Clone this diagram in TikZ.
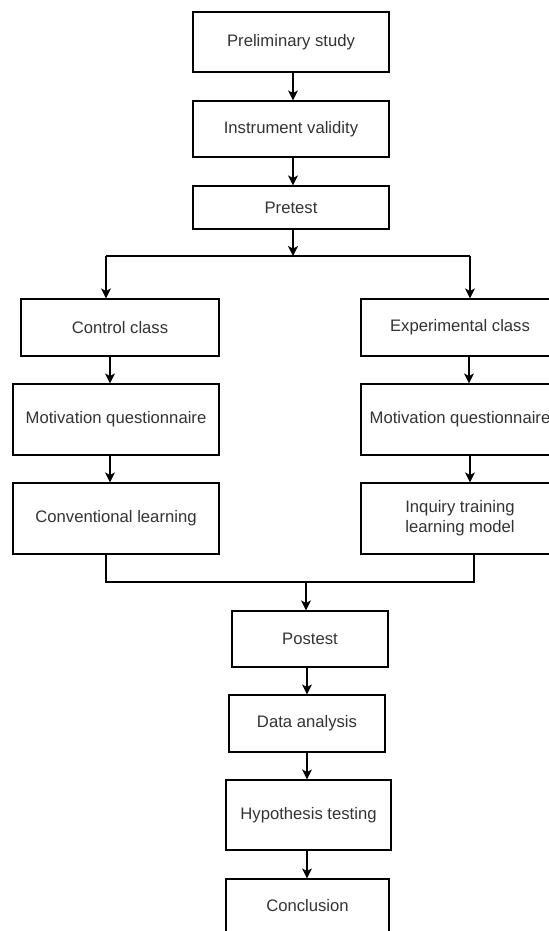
\documentclass[tikz,border=0pt]{standalone}
\usepackage{fontspec}
\setmainfont{Liberation Sans}
\usetikzlibrary{arrows.meta}
\newlength{\pxu}\setlength{\pxu}{0.75pt}

\begin{document}
\begin{tikzpicture}[x=0.75pt, y=-0.75pt,
  box/.style={draw, line width=0.9pt, inner sep=0pt, align=center,
    text=black!80, font=\fontsize{12.5}{15}\selectfont},
  flow/.style={line width=0.9pt, -{Stealth[length=7.5pt, width=7.5pt, inset=2pt]}},
  link/.style={line width=0.9pt}]
  \useasboundingbox (0,0) rectangle (549,931);
  \clip (0,0) rectangle (549,931);

  % main column
  \node[box, minimum width=196\pxu, minimum height=60\pxu] (prelim) at (291,42) {Preliminary study};
  \node[box, minimum width=196\pxu, minimum height=56\pxu] (validity) at (291,129) {Instrument validity};
  \node[box, minimum width=196\pxu, minimum height=43\pxu] (pretest) at (291,207.5) {Pretest};

  % two classes
  \node[box, minimum width=198\pxu, minimum height=57\pxu] (control) at (120,327.5) {Control class};
  \node[box, minimum width=198\pxu, minimum height=57\pxu] (expcls) at (460,327.5) {Experimental class};
  \node[box, minimum width=206\pxu, minimum height=71\pxu] (motivL) at (116,419.5) {Motivation questionnaire};
  \node[box, minimum width=198\pxu, minimum height=71\pxu] (motivR) at (460,419.5) {Motivation questionnaire};
  \node[box, minimum width=206\pxu, minimum height=71\pxu] (convL) at (116,518.5) {Conventional learning};
  \node[box, minimum width=198\pxu, minimum height=71\pxu] (inquiry) at (460,518.5) {Inquiry training\\learning model};

  % after treatment
  \node[box, minimum width=156\pxu, minimum height=56\pxu] (postest) at (310,639) {Postest};
  \node[box, minimum width=156\pxu, minimum height=57\pxu] (data) at (307,723.5) {Data analysis};
  \node[box, minimum width=165\pxu, minimum height=70\pxu] (hypo) at (308.5,815) {Hypothesis testing};
  \node[box, minimum width=163\pxu, minimum height=54\pxu] (concl) at (307.5,906) {Conclusion};

  \coordinate (split) at (293,256);
  \coordinate (splitL) at (106,256);
  \coordinate (splitR) at (470,256);
  \coordinate (mergeL) at (106,582);
  \coordinate (mergeR) at (474,582);
  \coordinate (merge) at (306,582);

  \draw[flow] (prelim.south -| split) -- (validity.north -| split);
  \draw[flow] (validity.south -| split) -- (pretest.north -| split);
  \draw[flow] (pretest.south -| split) -- (split);
  \draw[link] (splitL) -- (splitR);
  \draw[flow] (splitL) -- (splitL |- control.north);
  \draw[flow] (splitR) -- (splitR |- expcls.north);

  \draw[flow] ([xshift=-7.5pt]control.south) -- ([xshift=-7.5pt]control.south |- motivL.north);
  \draw[flow] ([xshift=-4.5pt]motivL.south) -- ([xshift=-4.5pt]motivL.south |- convL.north);
  \draw[flow] ([xshift=6.75pt]expcls.south) -- ([xshift=6.75pt]expcls.south |- motivR.north);
  \draw[flow] ([xshift=7.5pt]motivR.south) -- ([xshift=7.5pt]motivR.south |- inquiry.north);

  \draw[link] (convL.south -| mergeL) -- (mergeL) -- (mergeR) -- (inquiry.south -| mergeR);
  \draw[flow] (merge) -- (merge |- postest.north);

  \draw[flow] (postest.south -| data) -- (data.north);
  \draw[flow] (data.south) -- (hypo.north -| data);
  \draw[flow] (hypo.south -| data) -- (concl.north -| data);
\end{tikzpicture}
\end{document}
